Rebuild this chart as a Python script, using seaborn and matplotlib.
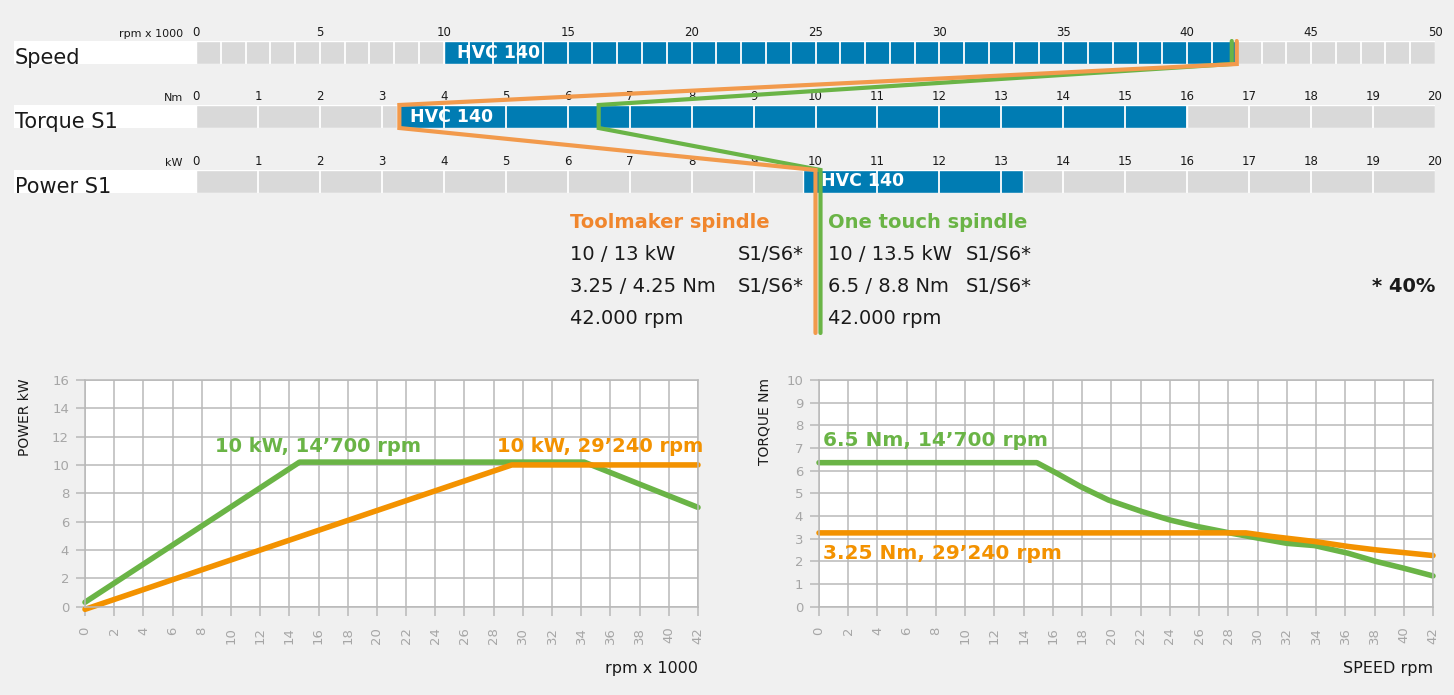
import numpy as np
import pandas as pd
import matplotlib
matplotlib.use("Agg")
import matplotlib.pyplot as plt
import seaborn as sns
from matplotlib.lines import Line2D
from matplotlib.patches import Rectangle
from matplotlib.transforms import offset_copy

# ---------------- data ----------------
row_labels = ["Speed", "Torque S1", "Power S1"]
row_units = ["rpm x 1000", "Nm", "kW"]
row_max = [50, 20, 20]
row_ticks = [list(range(0, 51, 5)), list(range(0, 21)), list(range(0, 21))]
hvc_start = [10, 3.25, 9.8]
hvc_end = [42, 16, 13.35]
hvc_label = "HVC 140"
toolmaker_link = [42, 3.25, 10]   # speed, torque, power
onetouch_link = [42, 6.5, 10]

toolmaker_title = "Toolmaker spindle"
toolmaker_specs = ["10 / 13 kW", "3.25 / 4.25 Nm", "42.000 rpm"]
toolmaker_modes = ["S1/S6*", "S1/S6*", ""]
onetouch_title = "One touch spindle"
onetouch_specs = ["10 / 13.5 kW", "6.5 / 8.8 Nm", "42.000 rpm"]
onetouch_modes = ["S1/S6*", "S1/S6*", ""]
footnote = "* 40%"

rpm_ticks = list(range(0, 43, 2))
power_ticks = list(range(0, 17, 2))
torque_ticks = list(range(0, 11))

power_green_rpm = [0, 14.7, 34.2, 42]
power_green_kw = [0.3, 10.2, 10.2, 7.0]
power_orange_rpm = [0, 29.24, 42]
power_orange_kw = [-0.2, 10.0, 10.0]

torque_green_rpm = [0, 14.9, 16.3, 17.9, 19.8, 22.1, 24, 25.9, 28, 30.1, 32, 33.9, 36.2, 38.1, 40, 42]
torque_green_nm = [6.35, 6.35, 5.87, 5.29, 4.7, 4.19, 3.82, 3.53, 3.26, 3.01, 2.79, 2.69, 2.35, 1.99, 1.69, 1.35]
torque_orange_rpm = [0, 29.2, 31, 33.9, 36.2, 38.1, 40, 42]
torque_orange_nm = [3.25, 3.25, 3.09, 2.87, 2.65, 2.5, 2.38, 2.25]

power_labels = [("10 kW, 14\u2019700 rpm", 8.9, 11.3, "green"), ("10 kW, 29\u2019240 rpm", 28.2, 11.3, "orange")]
torque_labels = [("6.5 Nm, 14\u2019700 rpm", 0.25, 7.35, "green"), ("3.25 Nm, 29\u2019240 rpm", 0.25, 2.36, "orange")]

# ---------------- style ----------------
sns.set_style("white")
plt.rcParams['font.family'] = ['DejaVu Sans']

BG = "#f0f0f0"
BLUE = "#007cb3"
BARGREY = "#d9d9d9"
GREEN = "#6ab446"
ORANGE = "#f39200"
ORANGE_LINK = "#f29a4c"
ORANGE_TXT = "#f0862d"
GRID = "#b9b9b9"
TICKTXT = "#a6a6a6"
DARK = "#1a1a1a"

W, H = 1454, 695
fig = plt.figure(figsize=(W / 100, H / 100), dpi=100, facecolor=BG)


def fx(px):
    return px / W


def fy(py):
    return 1 - py / H


# ---------------- top rows ----------------
bar_tops = [41, 105, 170]
bar_h = 23
hvc_pad = [13, 13, 18]
row_axes = []
for i in range(3):
    top = bar_tops[i]
    ax = fig.add_axes([fx(196), fy(top + bar_h), fx(1435) - fx(196), bar_h / H])
    ax.set_xlim(0, row_max[i])
    ax.set_ylim(0, 1)
    ax.axis("off")
    ax.barh(0.5, row_max[i], height=1, color=BARGREY, align="center")
    ax.barh(0.5, hvc_end[i] - hvc_start[i], left=hvc_start[i], height=1, color=BLUE, align="center")
    ax.vlines(np.arange(1, row_max[i]), 0, 1, color="white", lw=1.3)
    for t in row_ticks[i]:
        ax.text(t, 1.08, str(t), ha="center", va="bottom", fontsize=8.5, color=DARK, clip_on=False)
    tr = offset_copy(ax.transData, fig=fig, x=hvc_pad[i], y=0, units="dots")
    ax.text(hvc_start[i], 0.5, hvc_label, transform=tr, ha="left", va="center",
            color="white", fontsize=12.5, fontweight="bold")
    # label box
    fig.add_artist(Rectangle((fx(14), fy(top + bar_h)), fx(196) - fx(14), bar_h / H,
                             transform=fig.transFigure, facecolor="white", edgecolor="none", zorder=0.5))
    fig.text(fx(15), fy(top + bar_h), row_labels[i], ha="left", va="baseline", fontsize=15, color=DARK, zorder=1)
    fig.text(fx(183), fy(top - 2), row_units[i], ha="right", va="bottom", fontsize=8, color=DARK)
    row_axes.append(ax)


def link_points(values, px_offsets, bottom_px):
    inv = fig.transFigure.inverted()
    pts = []
    for ax, v, off in zip(row_axes, values, px_offsets):
        for yy in (1, 0):
            d = ax.transData.transform((v, yy))
            pts.append((d[0] + off, d[1]))
    # last row: only top, then straight down
    pts = pts[:-1]
    last = pts[-1]
    pts.append((last[0], H - bottom_px))
    pts = inv.transform(np.array(pts))
    return pts[:, 0], pts[:, 1]


gx, gy = link_points(onetouch_link, [-5, 0, 5], 333)
ox, oy = link_points(toolmaker_link, [0, 2, 0], 333)
fig.add_artist(Line2D(gx, gy, transform=fig.transFigure, color=GREEN, lw=3, zorder=5,
                      solid_joinstyle="miter"))
fig.add_artist(Line2D(ox, oy, transform=fig.transFigure, color=ORANGE_LINK, lw=3, zorder=6,
                      solid_joinstyle="miter"))

# ---------------- spec text ----------------
row_y = [254, 286, 318]
fig.text(fx(570), fy(222), toolmaker_title, ha="left", va="center", fontsize=14, fontweight="bold", color=ORANGE_TXT)
fig.text(fx(828), fy(222), onetouch_title, ha="left", va="center", fontsize=14, fontweight="bold", color=GREEN)
for y, s1, m1, s2, m2 in zip(row_y, toolmaker_specs, toolmaker_modes, onetouch_specs, onetouch_modes):
    fig.text(fx(570), fy(y), s1, ha="left", va="center", fontsize=14, color=DARK)
    fig.text(fx(738), fy(y), m1, ha="left", va="center", fontsize=14, color=DARK)
    fig.text(fx(828), fy(y), s2, ha="left", va="center", fontsize=14, color=DARK)
    fig.text(fx(966), fy(y), m2, ha="left", va="center", fontsize=14, color=DARK)
fig.text(fx(1435), fy(286), footnote, ha="right", va="center", fontsize=14, fontweight="bold", color=DARK)

# ---------------- charts ----------------
def style_chart(ax, xticks, yticks, ylim):
    ax.set_facecolor("white")
    ax.set_xlim(0, 42)
    ax.set_ylim(*ylim)
    ax.set_xticks(xticks)
    ax.set_yticks(yticks)
    ax.grid(True, color=GRID, lw=1.1)
    ax.set_axisbelow(True)
    for sp in ax.spines.values():
        sp.set_visible(True)
        sp.set_color(GRID)
        sp.set_linewidth(1.1)
    ax.tick_params(axis="both", direction="out", length=6.5, width=1.1, color=GRID,
                   labelcolor=TICKTXT, labelsize=9.5, left=True, bottom=True)
    ax.tick_params(axis="x", pad=8, labelrotation=90)
    ax.tick_params(axis="y", pad=5)
    ax.set_xlabel("")
    ax.set_ylabel("")


df_power = pd.DataFrame({
    "rpm": power_green_rpm + power_orange_rpm,
    "val": power_green_kw + power_orange_kw,
    "spindle": ["green"] * len(power_green_rpm) + ["orange"] * len(power_orange_rpm),
})
df_torque = pd.DataFrame({
    "rpm": torque_green_rpm + torque_orange_rpm,
    "val": torque_green_nm + torque_orange_nm,
    "spindle": ["green"] * len(torque_green_rpm) + ["orange"] * len(torque_orange_rpm),
})
pal = {"green": GREEN, "orange": ORANGE}

axL = fig.add_axes([fx(85), fy(606.5), fx(698) - fx(85), (606.5 - 380) / H])
sns.lineplot(data=df_power, x="rpm", y="val", hue="spindle", hue_order=["green", "orange"],
             palette=pal, estimator=None, sort=False, legend=False, lw=4, ax=axL, clip_on=False)
style_chart(axL, rpm_ticks, power_ticks, (0, 16))
for txt, x, y, c in power_labels:
    axL.text(x, y, txt, ha="left", va="center", fontsize=14, fontweight="bold", color=pal[c])

axR = fig.add_axes([fx(819), fy(606.5), fx(1433) - fx(819), (606.5 - 380) / H])
sns.lineplot(data=df_torque, x="rpm", y="val", hue="spindle", hue_order=["green", "orange"],
             palette=pal, estimator=None, sort=False, legend=False, lw=4, ax=axR, clip_on=False)
style_chart(axR, rpm_ticks, torque_ticks, (0, 10))
for txt, x, y, c in torque_labels:
    axR.text(x, y, txt, ha="left", va="center", fontsize=14.5, fontweight="bold", color=pal[c])

fig.text(fx(25), fy(378), "POWER kW", rotation=90, ha="center", va="top", fontsize=10, color=DARK)
fig.text(fx(765), fy(378), "TORQUE Nm", rotation=90, ha="center", va="top", fontsize=10, color=DARK)
fig.text(fx(698), fy(668), "rpm x 1000", ha="right", va="center", fontsize=11.5, color=DARK)
fig.text(fx(1433), fy(668), "SPEED rpm", ha="right", va="center", fontsize=11.5, color=DARK)

fig.savefig("out.png", dpi=100, facecolor=BG)
